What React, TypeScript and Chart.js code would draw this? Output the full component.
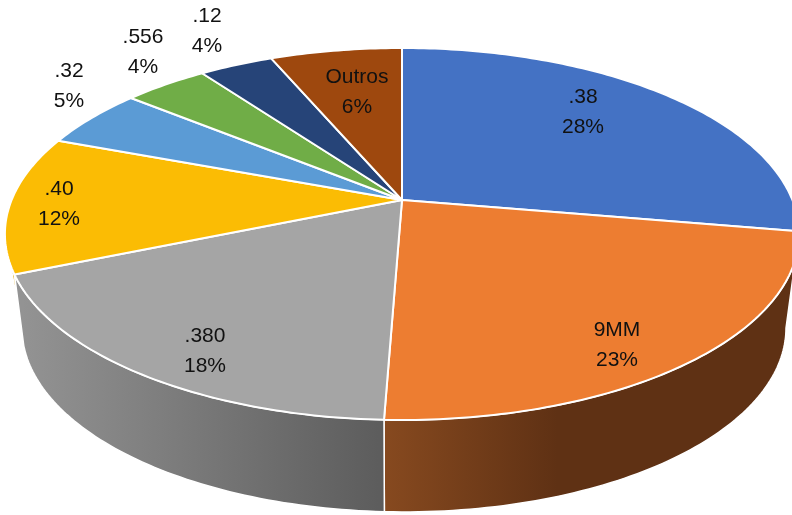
import React, { useEffect, useRef } from "react";
import { Chart, registerables } from "chart.js";

Chart.register(...registerables);

const categories = [".38", "9MM", ".380", ".40", ".32", ".556", ".12", "Outros"];
const shares = [27.7, 22.9, 18.1, 12.0, 5.2, 4.1, 3.6, 6.4];
const topColors = ["#4472C4", "#ED7D31", "#A5A5A5", "#FBBC04", "#5B9BD5", "#70AD47", "#264478", "#9E480E"];
const labelAnchors = [[583, 112], [617, 345], [205, 351], [59, 204], [69, 86], [143, 52], [207, 31], [357, 92]];

const TOP = { cx: 402, cy: 200, a: 390.4, b: 179.8, k: 0.1828 };
const BOTTOM = { cx: 404, cy: 272.8, a: 364.4, b: 167.4, k: 0.3 };
const deg = (d: number) => (d * Math.PI) / 180;
const TOP_FROM = deg(100);
const TOP_TO = deg(259.5);
const BOTTOM_FROM = deg(107.5);
const BOTTOM_TO = deg(252.5);

type Disc = typeof TOP;
const project = (d: Disc, theta: number): [number, number] => {
  const u = Math.sin(theta);
  const v = -Math.cos(theta);
  const w = 1 - d.k * v;
  return [d.cx + (d.a * u) / w, d.cy + (d.b * v) / w];
};

const traceArc = (ctx: CanvasRenderingContext2D, d: Disc, from: number, to: number, first: boolean) => {
  const steps = Math.max(2, Math.ceil(Math.abs(to - from) * 60));
  for (let s = 0; s <= steps; s++) {
    const [x, y] = project(d, from + ((to - from) * s) / steps);
    if (s === 0 && first) ctx.moveTo(x, y);
    else ctx.lineTo(x, y);
  }
};

const wallFill = (ctx: CanvasRenderingContext2D, i: number) => {
  if (i === 2) {
    const g = ctx.createLinearGradient(22, 0, 385, 0);
    g.addColorStop(0, "#939393");
    g.addColorStop(1, "#5c5c5c");
    return g;
  }
  if (i === 1) {
    const g = ctx.createLinearGradient(387, 0, 792, 0);
    g.addColorStop(0, "#86491f");
    g.addColorStop(0.42, "#5f3114");
    g.addColorStop(1, "#5f3114");
    return g;
  }
  if (i === 3) return "#DDA500";
  return topColors[i];
};

const pie3d = {
  id: "pie3d",
  beforeDatasetDraw(chart: any) {
    const ctx: CanvasRenderingContext2D = chart.ctx;
    const arcs = chart.getDatasetMeta(0).data;
    const range = arcs.map((a: any) => [a.startAngle + Math.PI / 2, a.endAngle + Math.PI / 2]);
    ctx.save();
    ctx.lineJoin = "round";
    // side wall, from the same arc angles
    [3, 0, 1, 2].forEach((i) => {
      const from = Math.max(range[i][0], TOP_FROM);
      const to = Math.min(range[i][1], TOP_TO);
      if (to <= from) return;
      const botFrom = Math.max(range[i][0], BOTTOM_FROM);
      const botTo = Math.min(range[i][1], BOTTOM_TO);
      ctx.beginPath();
      traceArc(ctx, TOP, from, to, true);
      if (botTo > botFrom) traceArc(ctx, BOTTOM, botTo, botFrom, false);
      ctx.closePath();
      ctx.fillStyle = wallFill(ctx, i);
      ctx.fill();
      ctx.strokeStyle = "#ffffff";
      ctx.lineWidth = 1.5;
      ctx.stroke();
    });
    // top face
    range.forEach(([from, to]: number[], i: number) => {
      ctx.beginPath();
      ctx.moveTo(TOP.cx, TOP.cy);
      traceArc(ctx, TOP, from, to, false);
      ctx.closePath();
      ctx.fillStyle = topColors[i];
      ctx.fill();
      ctx.strokeStyle = "#ffffff";
      ctx.lineWidth = 2;
      ctx.stroke();
    });
    ctx.restore();
    return false;
  },
  afterDraw(chart: any) {
    const ctx: CanvasRenderingContext2D = chart.ctx;
    ctx.save();
    ctx.fillStyle = "#111111";
    ctx.font = '21px "Liberation Sans"';
    ctx.textAlign = "center";
    ctx.textBaseline = "middle";
    chart.data.labels.forEach((name: string, i: number) => {
      const [x, y] = labelAnchors[i];
      ctx.fillText(name, x, y - 15);
      ctx.fillText(`${Math.round(chart.data.datasets[0].data[i])}%`, x, y + 15);
    });
    ctx.restore();
  },
};

export default function App() {
  const ref = useRef<HTMLCanvasElement>(null);
  useEffect(() => {
    const chart = new Chart(ref.current as HTMLCanvasElement, {
      type: "pie",
      data: { labels: categories, datasets: [{ data: shares, backgroundColor: topColors }] },
      options: {
        animation: false,
        responsive: false,
        devicePixelRatio: 1,
        events: [],
        plugins: { legend: { display: false }, tooltip: { enabled: false } },
      },
      plugins: [pie3d],
    } as any);
    return () => chart.destroy();
  }, []);
  return (
    <div style={{ position: "fixed", left: 0, top: 0, width: 792, height: 515, background: "#fff" }}>
      <canvas ref={ref} width={792} height={515} style={{ display: "block" }} />
    </div>
  );
}
